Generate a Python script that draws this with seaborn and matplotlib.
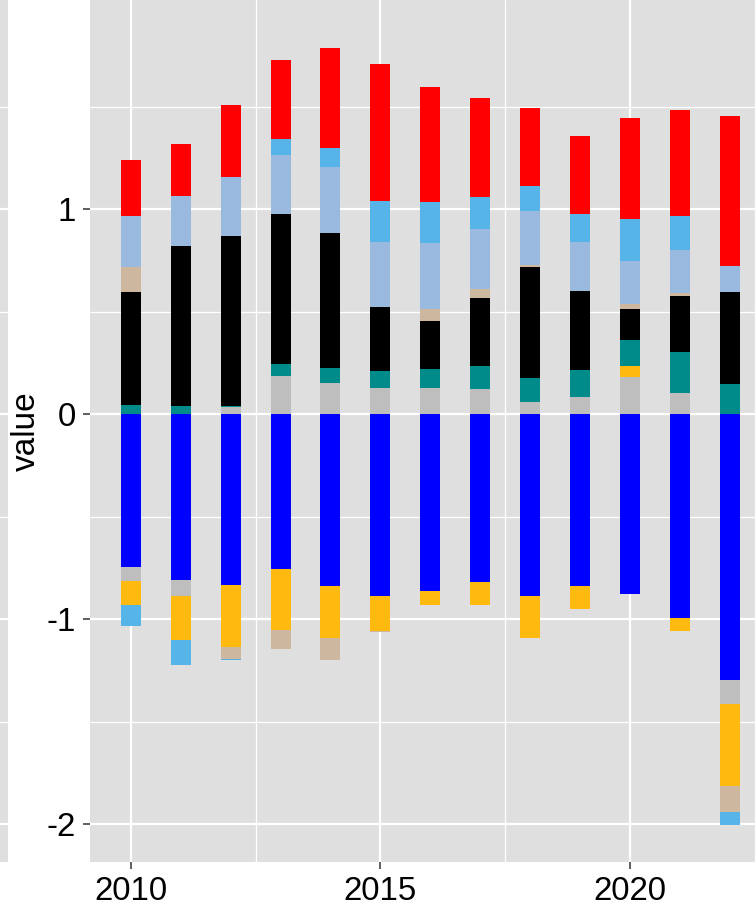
import numpy as np
import pandas as pd
import seaborn as sns
from matplotlib import pyplot as plt
from matplotlib.ticker import FixedLocator

years = list(range(2010, 2023))

# series listed from the zero line outwards (stack order)
blue = [-0.745, -0.808, -0.833, -0.755, -0.836, -0.886, -0.863, -0.818, -0.888, -0.836, -0.877, -0.995, -1.295]
grey = [-0.068, -0.077, 0.036, 0.185, 0.154, 0.130, 0.130, 0.122, 0.057, 0.086, 0.183, 0.105, -0.119]
orange = [-0.117, -0.216, -0.302, -0.296, -0.254, -0.171, -0.067, -0.112, -0.205, -0.115, 0.052, -0.063, -0.397]
teal = [0.045, 0.042, 0.006, 0.060, 0.070, 0.081, 0.090, 0.115, 0.119, 0.130, 0.125, 0.197, 0.148]
black = [0.550, 0.779, 0.828, 0.732, 0.659, 0.311, 0.236, 0.329, 0.541, 0.384, 0.154, 0.273, 0.447]
tan = [0.125, 0.0, -0.057, -0.094, -0.110, -0.005, 0.059, 0.045, 0.010, 0.0, 0.023, 0.015, -0.130]
lightblue = [0.246, 0.245, 0.286, 0.289, 0.322, 0.319, 0.322, 0.293, 0.265, 0.239, 0.210, 0.211, 0.128]
skyblue = [-0.104, -0.122, -0.005, 0.078, 0.094, 0.197, 0.197, 0.155, 0.119, 0.138, 0.205, 0.167, -0.062]
red = [0.273, 0.251, 0.351, 0.384, 0.488, 0.672, 0.563, 0.484, 0.382, 0.382, 0.491, 0.516, 0.732]

series = [blue, grey, orange, teal, black, tan, lightblue, skyblue, red]
colours = ['#0000FF', '#BEBEBE', '#FFB90F', '#008B8B', '#000000',
           '#CDB79E', '#9AB9DE', '#56B4E9', '#FF0000']

sns.set_theme(style='darkgrid')
plt.rcParams['font.family'] = ['Liberation Sans', 'DejaVu Sans']

fig = plt.figure(figsize=(7.56, 9.09), dpi=100)
bg = '#DFDFDF'
ylim = (-2.184, 2.02)

# bit of the neighbouring panel at the left edge
strip = fig.add_axes([0, 47 / 909, 8 / 756, 862 / 909])
strip.set_facecolor(bg)
strip.set_ylim(*ylim)
strip.set_xticks([])
strip.set_yticks([-2, -1, 0, 1])
strip.yaxis.set_minor_locator(FixedLocator([-1.5, -0.5, 0.5, 1.5]))
strip.grid(True, which='major', color='white', lw=1.6)
strip.grid(True, which='minor', color='white', lw=0.9)
strip.tick_params(left=False, labelleft=False, which='both')
for s in strip.spines.values():
    s.set_visible(False)

ax = fig.add_axes([90 / 756, 47 / 909, 666 / 756, 862 / 909])
ax.set_facecolor(bg)

# stack positives and negatives separately, draw outer layers first
for sign in (1, -1):
    cum = np.zeros(len(years))
    layers = []
    for vals, col in zip(series, colours):
        v = np.array(vals)
        part = np.where(v > 0, v, 0) if sign > 0 else np.where(v < 0, v, 0)
        cum = cum + part
        layers.append((cum.copy(), col))
    for c, col in reversed(layers):
        sns.barplot(x=years, y=c, color=col, native_scale=True, width=0.4,
                    saturation=1, errorbar=None, linewidth=0, ax=ax)

ax.set_xlim(2009.18, 2022.53)
ax.set_ylim(*ylim)
ax.set_xticks([2010, 2015, 2020])
ax.set_xticklabels(['2010', '2015', '2020'])
ax.set_yticks([-2, -1, 0, 1])
ax.set_yticklabels(['-2', '-1', '0', '1'])
ax.xaxis.set_minor_locator(FixedLocator([2012.5, 2017.5, 2022.5]))
ax.yaxis.set_minor_locator(FixedLocator([-1.5, -0.5, 0.5, 1.5]))
ax.set_axisbelow(True)
ax.grid(True, which='major', color='white', lw=1.6)
ax.grid(True, which='minor', color='white', lw=0.9)
ax.tick_params(axis='both', which='major', length=5, width=1.1, color='#333333',
               labelsize=23.8, labelcolor='black', pad=5, bottom=True, left=True)
ax.tick_params(axis='both', which='minor', length=0)
for s in ax.spines.values():
    s.set_visible(False)
ax.set_xlabel('')
ax.set_ylabel('value', fontsize=24, color='black')
ax.yaxis.set_label_coords(-0.072, 0.5)

fig.savefig('out.png', dpi=100, facecolor='white')
